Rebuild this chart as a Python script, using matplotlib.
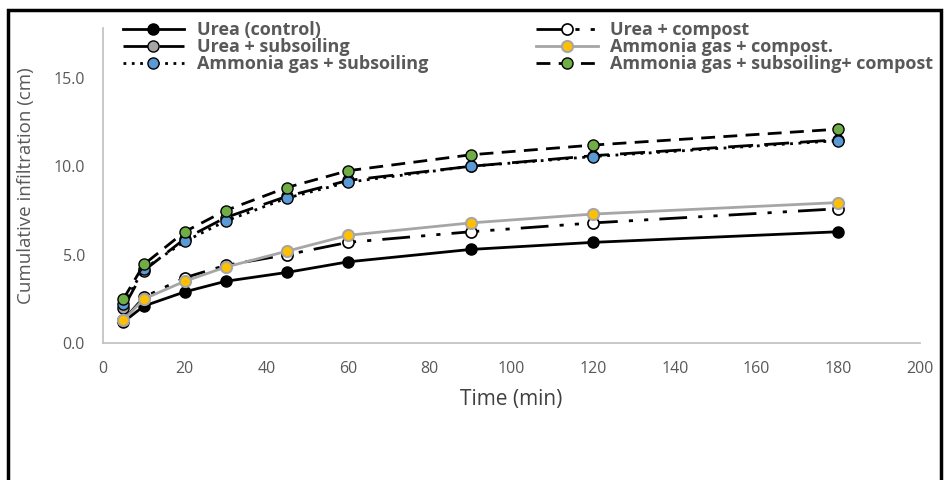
import numpy as np
from matplotlib import pyplot as plt
from matplotlib.patches import Rectangle

plt.rcParams['font.family'] = ['Open Sans', 'DejaVu Sans']

# time of measurement (min)
t = [5, 10, 20, 30, 45, 60, 90, 120, 180]

# cumulative infiltration (cm)
urea_control = [1.2, 2.1, 2.9, 3.5, 4.0, 4.6, 5.3, 5.7, 6.3]
urea_compost = [1.3, 2.6, 3.7, 4.4, 5.0, 5.7, 6.3, 6.8, 7.6]
urea_subsoil = [2.0, 4.1, 5.9, 7.1, 8.3, 9.2, 10.0, 10.6, 11.5]
amm_compost = [1.3, 2.5, 3.5, 4.3, 5.2, 6.1, 6.8, 7.3, 7.95]
amm_subsoil = [2.2, 4.2, 5.75, 6.9, 8.2, 9.1, 10.0, 10.55, 11.45]
amm_subsoil_compost = [2.5, 4.45, 6.3, 7.5, 8.8, 9.75, 10.65, 11.2, 12.1]

labels = ['Urea (control)', 'Urea + compost', 'Urea + subsoiling',
          'Ammonia gas + compost.', 'Ammonia gas + subsoiling',
          'Ammonia gas + subsoiling+ compost']

fig = plt.figure(figsize=(9.51, 4.8), dpi=100)
ax = fig.add_axes([0.1083, 0.285, 0.859, 0.656])

ms = 8
l1, = ax.plot(t, urea_control, color='black', lw=2, marker='o', ms=ms,
              mfc='black', mec='black', zorder=3)
l2, = ax.plot(t, urea_compost, color='black', lw=2, dashes=[10, 4, 1.5, 4, 1.5, 4],
              marker='o', ms=ms, mfc='white', mec='black', mew=1.2, zorder=3)
l3, = ax.plot(t, urea_subsoil, color='black', lw=2, dashes=[9, 4],
              marker='o', ms=ms, mfc='#A6A6A6', mec='black', mew=1, zorder=3)
l4, = ax.plot(t, amm_compost, color='#A6A6A6', lw=2, marker='o', ms=ms,
              mfc='#FFC000', mec='#A6A6A6', mew=1.5, zorder=4)
l5, = ax.plot(t, amm_subsoil, color='black', lw=2, ls=(0, (1, 2)),
              marker='o', ms=ms, mfc='#5B9BD5', mec='black', mew=1, zorder=4)
l6, = ax.plot(t, amm_subsoil_compost, color='black', lw=2, dashes=[5, 3],
              marker='o', ms=ms, mfc='#70AD47', mec='black', mew=1, zorder=5)

ax.set_xlim(0, 200)
ax.set_ylim(0, 17.8)
ax.set_xticks(np.arange(0, 201, 20))
ax.set_yticks([0, 5, 10, 15])
ax.set_yticklabels(['0.0', '5.0', '10.0', '15.0'])
ax.tick_params(length=0, labelsize=11.5, labelcolor='#595959')
ax.tick_params(axis='x', pad=13)
ax.tick_params(axis='y', pad=13)

for s in ['top', 'right']:
    ax.spines[s].set_visible(False)
for s in ['left', 'bottom']:
    ax.spines[s].set_color('#BFBFBF')
    ax.spines[s].set_linewidth(1.2)

ax.set_xlabel('Time (min)', fontsize=15, color='#404040')
ax.xaxis.set_label_coords(0.5, -0.145)
ax.set_ylabel('Cumulative infiltration (cm)', fontsize=13.5, color='#595959')
ax.yaxis.set_label_coords(-0.083, 0.5)

leg_kw = dict(loc='upper left', frameon=False, handlelength=3.4,
              labelspacing=-0.05, handletextpad=0.7,
              prop={'weight': 'bold', 'size': 13})
leg1 = fig.legend([l1, l3, l5], [labels[0], labels[2], labels[4]],
                  bbox_to_anchor=(0.112, 0.99), **leg_kw)
leg2 = fig.legend([l2, l4, l6], [labels[1], labels[3], labels[5]],
                  bbox_to_anchor=(0.547, 0.99), **leg_kw)
for leg in (leg1, leg2):
    for txt in leg.get_texts():
        txt.set_color('#595959')

# black frame around the picture
fig.patches.append(Rectangle((0.008, -0.05), 0.99 - 0.008, 0.979 + 0.05,
                             transform=fig.transFigure, fill=False,
                             edgecolor='black', lw=2.5, clip_on=False))

fig.savefig('out.png', dpi=100)
